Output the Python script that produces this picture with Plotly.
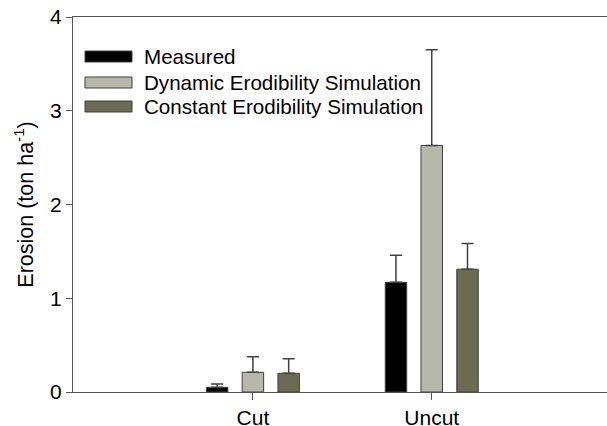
import plotly.graph_objects as go

# Data
categories = ["Cut", "Uncut"]
series_names = ["Measured", "Dynamic Erodibility Simulation", "Constant Erodibility Simulation"]
measured = [0.05, 1.17]
measured_err = [0.035, 0.29]
dynamic = [0.21, 2.63]
dynamic_err = [0.165, 1.02]
constant = [0.20, 1.31]
constant_err = [0.155, 0.275]

colors = ["#000000", "#b8b8aa", "#6b6b52"]
values = [measured, dynamic, constant]
errors = [measured_err, dynamic_err, constant_err]

W, H = 607, 426
L, R, T, B = 73, 0, 17, 34
FONT = "Arial, Liberation Sans, sans-serif"

fig = go.Figure()
for name, vals, errs, col in zip(series_names, values, errors, colors):
    fig.add_trace(go.Bar(
        x=categories, y=vals, name=name,
        marker=dict(color=col, line=dict(color="#404040", width=1)),
        error_y=dict(type="data", symmetric=False, array=errs,
                     arrayminus=[0] * len(errs),
                     color="#404040", thickness=1.5, width=6),
        showlegend=False,
    ))

# Legend drawn with wide swatches like the original
def px_to_paper(px, py):
    return (px - L) / (W - L - R), (H - B - py) / (H - T - B)

legend_rows = [56.5, 82.5, 106.5]
for name, col, cy in zip(series_names, colors, legend_rows):
    x0, y0 = px_to_paper(85, cy - 5.5)
    x1, y1 = px_to_paper(132, cy + 5.5)
    fig.add_shape(type="rect", xref="paper", yref="paper",
                  x0=x0, x1=x1, y0=y0, y1=y1,
                  fillcolor=col, line=dict(color="#404040", width=1))
    tx, ty = px_to_paper(142, cy)
    fig.add_annotation(xref="paper", yref="paper", x=tx, y=ty, text=name,
                       showarrow=False, xanchor="left", yanchor="middle",
                       font=dict(size=20.6, color="black", family=FONT))

fig.update_layout(
    width=W, height=H,
    margin=dict(l=L, r=R, t=T, b=B),
    barmode="group", bargap=0.4, bargroupgap=0.4,
    plot_bgcolor="white", paper_bgcolor="white",
    font=dict(family=FONT, size=21, color="black"),
)
fig.update_xaxes(
    range=[-1.006, 1.98], showline=True, linecolor="#555555", linewidth=1,
    mirror=True, ticks="outside", ticklen=7, tickcolor="#555555",
    showgrid=False, zeroline=False, automargin=False,
)
fig.update_yaxes(
    range=[0, 4], tickvals=[0, 1, 2, 3, 4], showline=True,
    linecolor="#555555", linewidth=1, ticks="outside", ticklen=6,
    tickcolor="#555555", showgrid=False, zeroline=False, automargin=False,
    title=dict(text="Erosion (ton ha<sup>-1</sup>)", standoff=10,
               font=dict(size=21.5)),
)

# page margin off so the figure sits at the window corner
fig.write_html("out.html", config={"displayModeBar": False},
               post_script="document.body.style.margin='0';")
